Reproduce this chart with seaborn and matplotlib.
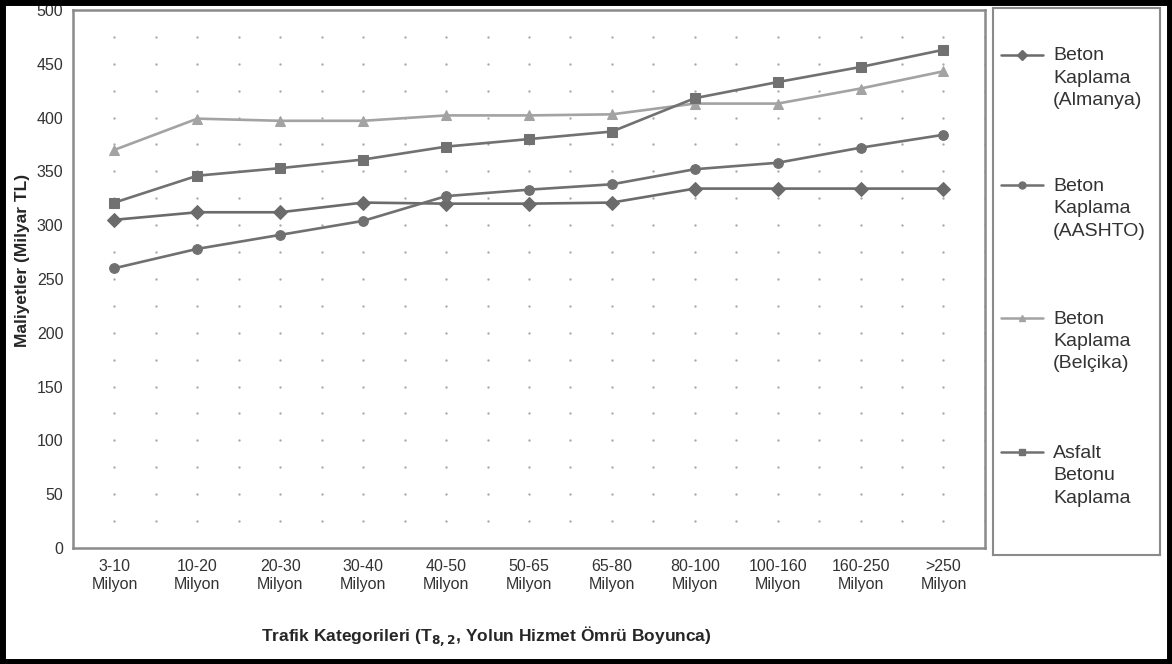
import numpy as np
import pandas as pd
import matplotlib
matplotlib.use('Agg')
import matplotlib.pyplot as plt
from matplotlib.patches import Rectangle
import seaborn as sns

sns.set_style('white')
plt.rcParams['font.family'] = ['Liberation Sans', 'DejaVu Sans']

# data
categories = ['3-10\nMilyon', '10-20\nMilyon', '20-30\nMilyon', '30-40\nMilyon', '40-50\nMilyon',
              '50-65\nMilyon', '65-80\nMilyon', '80-100\nMilyon', '100-160\nMilyon',
              '160-250\nMilyon', '>250\nMilyon']
series_names = ['Beton\nKaplama\n(Almanya)', 'Beton\nKaplama\n(AASHTO)',
                'Beton\nKaplama\n(Belçika)', 'Asfalt\nBetonu\nKaplama']
almanya = [305, 312, 312, 321, 320, 320, 321, 334, 334, 334, 334]
aashto = [260, 278, 291, 304, 327, 333, 338, 352, 358, 372, 384]
belcika = [370, 399, 397, 397, 402, 402, 403, 413, 413, 427, 443]
asfalt = [321, 346, 353, 361, 373, 380, 387, 418, 433, 447, 463]
y_ticks = list(range(0, 501, 50))

colors = ['#6b6b6b', '#707070', '#a3a3a3', '#717171']
markers = ['D', 'o', '^', 's']
msizes = [7, 7, 7.5, 7]

df = pd.DataFrame({
    'pos': list(range(len(categories))) * 4,
    'val': almanya + aashto + belcika + asfalt,
    'seri': np.repeat(series_names, len(categories)),
})

fig = plt.figure(figsize=(11.72, 6.64), dpi=100)
ax = fig.add_axes([0.0623, 0.1747, 0.7781, 0.8103])

# dotted grid: only dots at the intersections
gx, gy = np.meshgrid(np.arange(0, len(categories) - 0.4, 0.5), np.arange(25, 500, 25))
ax.plot(gx.ravel(), gy.ravel(), ls='none', marker='.', ms=1.4, color='#a8a8a8', zorder=1)

for name, c, m, s in zip(series_names, colors, markers, msizes):
    sns.lineplot(data=df[df['seri'] == name], x='pos', y='val', color=c, marker=m,
                 markersize=s, markeredgecolor=c, linewidth=1.9, ax=ax, zorder=3)

ax.set_xlim(-0.5, len(categories) - 0.5)
ax.set_ylim(0, 500)
ax.set_yticks(y_ticks)
ax.tick_params(axis='y', which='major', direction='out', length=5, width=1, color='#777777',
               labelsize=11.5, labelcolor='#333333', pad=2)

# major x ticks on category boundaries, labels centred at minor positions
ax.set_xticks(np.arange(-0.5, len(categories), 1.0))
ax.set_xticklabels([])
ax.set_xticks(range(len(categories)), minor=True)
ax.set_xticklabels(categories, minor=True)
ax.tick_params(axis='x', which='major', direction='out', length=6, width=1.2, color='#777777')
ax.tick_params(axis='x', which='minor', length=0, labelsize=11.5, labelcolor='#333333', pad=8)

for sp in ax.spines.values():
    sp.set_color('#8a8a8a')
    sp.set_linewidth(1.8)
    sp.set_visible(True)

ax.set_ylabel('Maliyetler (Milyar TL)', fontsize=12.5, fontweight='bold')
ax.yaxis.set_label_coords(-0.047, 0.535)
ax.set_xlabel('Trafik Kategorileri (T$_{\\mathbf{8,2}}$, Yolun Hizmet Ömrü Boyunca)',
              fontsize=12.5, fontweight='bold')
ax.xaxis.set_label_coords(0.453, -0.142)

# legend panel on the right
lax = fig.add_axes([0.847, 0.164, 0.143, 0.824])
lax.set_xlim(0, 1)
lax.set_ylim(0, 1)
lax.set_xticks([])
lax.set_yticks([])
for sp in lax.spines.values():
    sp.set_color('#8a8a8a')
    sp.set_linewidth(1.5)
entry_y = [0.914, 0.676, 0.433, 0.188]
for name, c, m, ey in zip(series_names, colors, markers, entry_y):
    lax.plot([0.05, 0.175, 0.30], [ey] * 3, color=c, lw=1.8, marker=m, markevery=[1], ms=5,
             markeredgecolor=c)
    lax.text(0.36, ey + 0.014, name, fontsize=14, color='#333333', va='top', ha='left',
             linespacing=1.42)

# black frame around the whole picture
fig.patches.append(Rectangle((0.002, 0.003), 0.996, 0.994, transform=fig.transFigure,
                             fill=False, edgecolor='black', linewidth=5))

fig.savefig('out.png', dpi=100)
